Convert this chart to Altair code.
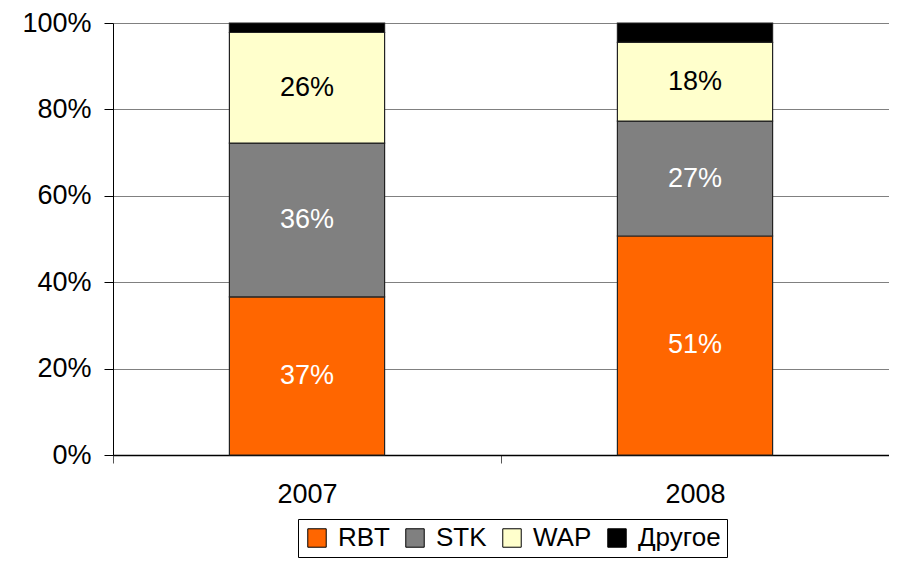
import altair as alt
import pandas as pd

years = ["2007", "2008"]
series = ["RBT", "STK", "WAP", "Другое"]
values_2007 = [0.366, 0.356, 0.256, 0.022]
values_2008 = [0.507, 0.266, 0.182, 0.045]
colors = ["#FF6600", "#808080", "#FFFFCC", "#000000"]
white_label_series = ["RBT", "STK"]
black_label_series = ["WAP"]
y_ticks = [0, 0.2, 0.4, 0.6, 0.8, 1.0]

rows = []
for yr, vals in zip(years, [values_2007, values_2008]):
    for i, (s, v) in enumerate(zip(series, vals)):
        rows.append({"year": yr, "series": s, "value": v, "order": i})
df = pd.DataFrame(rows)

FONT = "Liberation Sans"

base = alt.Chart(df).transform_stack(
    stack="value", groupby=["year"], as_=["v0", "v1"],
    sort=[alt.SortField("order", order="ascending")]
).transform_calculate(mid="(datum.v0 + datum.v1) / 2")

x_scale = alt.Scale(paddingInner=0, paddingOuter=0)

x_enc = alt.X(
    "year:N",
    sort=years,
    scale=x_scale,
    axis=alt.Axis(
        title=None, labelAngle=0, tickBand="extent", grid=False,
        labelFont=FONT, labelFontSize=27, labelColor="black",
        labelPadding=18, tickSize=8, tickColor="#555555",
        domainColor="black", domainWidth=1.3,
    ),
)

bars = base.mark_bar(
    stroke="#222222", strokeWidth=1.2, width=alt.RelativeBandSize(0.4)
).encode(
    x=x_enc,
    y=alt.Y(
        "v0:Q",
        scale=alt.Scale(domain=[0, 1], nice=False),
        axis=alt.Axis(
            title=None, values=y_ticks, format=".0%",
            labelFont=FONT, labelFontSize=27, labelColor="black",
            labelPadding=13, tickSize=9, tickColor="black",
            domainColor="black", gridColor="#808080", gridWidth=1,
        ),
    ),
    y2="v1:Q",
    color=alt.Color(
        "series:N",
        sort=series,
        scale=alt.Scale(domain=series, range=colors),
        legend=alt.Legend(
            title=None, orient="none", legendX=185, legendY=496,
            direction="horizontal", strokeColor="black", padding=6,
            labelFont=FONT, labelFontSize=26, labelColor="black",
            symbolType="square", symbolSize=340, symbolStrokeColor="black",
            symbolStrokeWidth=1, symbolOpacity=1, labelOffset=8,
            columnPadding=12, fillColor="white",
        ),
    ),
    order=alt.Order("order:Q"),
)

text_white = base.transform_filter(
    alt.FieldOneOfPredicate(field="series", oneOf=white_label_series)
).mark_text(font=FONT, fontSize=27, color="white", baseline="middle").encode(
    x=alt.X("year:N", sort=years, scale=x_scale),
    y=alt.Y("mid:Q"),
    text=alt.Text("value:Q", format=".0%"),
)

text_black = base.transform_filter(
    alt.FieldOneOfPredicate(field="series", oneOf=black_label_series)
).mark_text(font=FONT, fontSize=27, color="black", baseline="middle").encode(
    x=alt.X("year:N", sort=years, scale=x_scale),
    y=alt.Y("mid:Q"),
    text=alt.Text("value:Q", format=".0%"),
)

chart = alt.layer(bars, text_white, text_black).properties(
    width=776, height=432,
    autosize=alt.AutoSizeParams(type="none"),
    padding={"left": 105, "top": 15, "right": 0, "bottom": 103},
).configure_view(stroke=None).configure(background="white")

chart.save("out.html", embed_options={"renderer": "svg", "actions": False})
